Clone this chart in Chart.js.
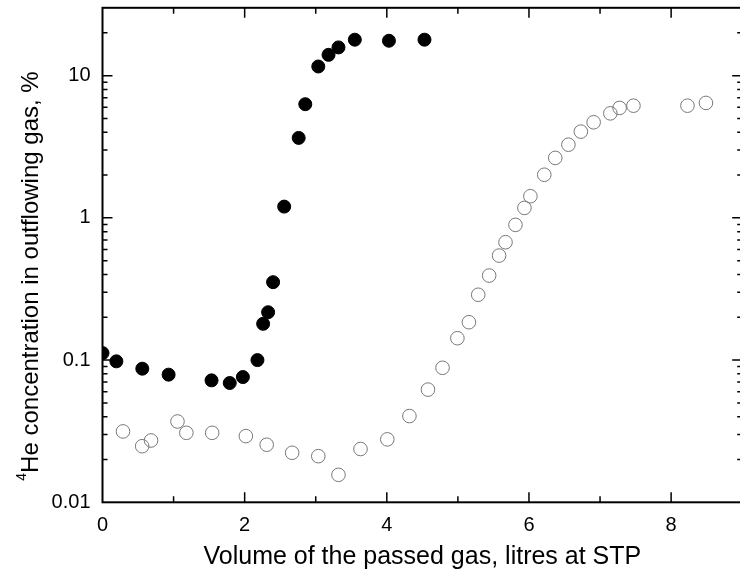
<!DOCTYPE html>
<html>
<head>
<meta charset="utf-8">
<script src="https://cdn.jsdelivr.net/npm/chart.js@4/dist/chart.umd.min.js"></script>
<style>
  html, body { margin: 0; padding: 0; background: #fff; overflow: hidden; }
  #wrap { width: 740px; height: 573px; overflow: hidden; }
</style>
</head>
<body>
<div id="wrap"><canvas id="grafico" width="750" height="573"></canvas></div>
<script>
// filled circles
const filledX = [0, 0.195, 0.56, 0.93, 1.534, 1.79, 1.975, 2.18, 2.26, 2.33, 2.40, 2.556, 2.76, 2.853, 3.036, 3.18, 3.32, 3.55, 4.03, 4.53];
const filledY = [0.112, 0.098, 0.087, 0.079, 0.072, 0.069, 0.076, 0.1, 0.18, 0.217, 0.353, 1.2, 3.65, 6.3, 11.6, 14.0, 15.8, 17.9, 17.6, 17.9];

// open circles
const openX = [0.288, 0.558, 0.683, 1.055, 1.18, 1.543, 2.017, 2.31, 2.668, 3.036, 3.32, 3.63, 4.007, 4.318, 4.579, 4.784, 4.993, 5.155, 5.286, 5.44, 5.58, 5.67, 5.81, 5.936, 6.02, 6.215, 6.37, 6.555, 6.73, 6.91, 7.145, 7.275, 7.47, 8.23, 8.49];
const openY = [0.0315, 0.0248, 0.0272, 0.037, 0.0308, 0.0308, 0.0292, 0.0254, 0.0223, 0.0211, 0.0156, 0.0237, 0.0277, 0.0404, 0.062, 0.0883, 0.1425, 0.1846, 0.288, 0.393, 0.543, 0.674, 0.893, 1.175, 1.42, 2.01, 2.64, 3.27, 4.04, 4.7, 5.43, 5.93, 6.15, 6.15, 6.43];

const xTickLabels = [0, 2, 4, 6, 8];
const yTickLabels = ["0.01", "0.1", "1", "10"];

const xTitulo = "Volume of the passed gas, litres at STP";
const yTitulo = "He concentration in outflowing gas, %";

const fuente = "'Liberation Sans', Arial, sans-serif";

function puntos(xs, ys) {
  return xs.map((x, i) => ({ x: x, y: ys[i] }));
}

function esDecada(v) {
  const l = Math.log10(v);
  return Math.abs(l - Math.round(l)) < 1e-6;
}

// quitar el relleno extra que Chart.js reserva para las etiquetas
function sinRelleno(s) {
  s.paddingTop = 0; s.paddingBottom = 0;
  s.paddingLeft = 0; s.paddingRight = 0;
}

// marco, ticks hacia adentro y titulo vertical
const marco = {
  id: "marco",
  afterDraw(chart) {
    const ctx = chart.ctx;
    const a = chart.chartArea;
    const xs = chart.scales.x;
    const ys = chart.scales.y;
    ctx.save();
    ctx.strokeStyle = "#000";
    ctx.lineWidth = 2;
    ctx.strokeRect(a.left, a.top, a.right - a.left, a.bottom - a.top);

    ctx.lineWidth = 1.5;
    ctx.beginPath();
    for (let v = 1; v < 9; v++) {
      const px = xs.getPixelForValue(v);
      const len = v % 2 === 0 ? 10 : 6;
      ctx.moveTo(px, a.bottom); ctx.lineTo(px, a.bottom - len);
      ctx.moveTo(px, a.top); ctx.lineTo(px, a.top + len);
    }
    for (let d = 0.01; d < 30; d *= 10) {
      for (let m = 1; m <= 9; m++) {
        const v = d * m;
        if (v <= 0.01 || v >= 30) continue;
        const py = ys.getPixelForValue(v);
        const len = m === 1 ? 10 : 5;
        ctx.moveTo(a.left, py); ctx.lineTo(a.left + len, py);
        ctx.moveTo(a.right, py); ctx.lineTo(a.right - len, py);
      }
    }
    ctx.stroke();

    // titulo eje y con superindice
    ctx.translate(38, 276);
    ctx.rotate(-Math.PI / 2);
    ctx.fillStyle = "#000";
    ctx.textBaseline = "alphabetic";
    ctx.textAlign = "left";
    ctx.font = "24px " + fuente;
    const w = ctx.measureText(yTitulo).width;
    ctx.font = "14px " + fuente;
    const wSup = ctx.measureText("4").width;
    const x0 = -(w + wSup) / 2;
    ctx.fillText("4", x0, -12);
    ctx.font = "24px " + fuente;
    ctx.fillText(yTitulo, x0 + wSup, 0);
    ctx.restore();
  }
};

new Chart(document.getElementById("grafico"), {
  type: "scatter",
  data: {
    datasets: [
      {
        label: "filled",
        data: puntos(filledX, filledY),
        backgroundColor: "#000",
        borderColor: "#000",
        borderWidth: 1,
        pointRadius: 6.5,
        clip: 0
      },
      {
        label: "open",
        data: puntos(openX, openY),
        backgroundColor: "rgba(0,0,0,0)",
        borderColor: "#777",
        borderWidth: 1,
        pointRadius: 6.8,
        clip: 0
      }
    ]
  },
  options: {
    responsive: false,
    animation: false,
    devicePixelRatio: 1,
    layout: { padding: { top: 7, right: 2, left: 0, bottom: 0 } },
    plugins: {
      legend: { display: false },
      tooltip: { enabled: false }
    },
    scales: {
      x: {
        type: "linear",
        min: 0,
        max: 9,
        grid: { display: false, drawTicks: false },
        border: { display: false },
        ticks: {
          stepSize: 1,
          autoSkip: false,
          maxRotation: 0,
          padding: 11,
          color: "#000",
          font: { family: fuente, size: 20 },
          callback: v => xTickLabels.includes(v) ? String(v) : ""
        },
        title: {
          display: true,
          text: xTitulo,
          color: "#000",
          font: { family: fuente, size: 25 },
          padding: { top: 0, bottom: 1 }
        },
        afterFit: s => { s.height = 70.7; sinRelleno(s); }
      },
      y: {
        type: "logarithmic",
        min: 0.01,
        max: 30,
        grid: { display: false, drawTicks: false },
        border: { display: false },
        ticks: {
          autoSkip: false,
          padding: 12,
          color: "#000",
          font: { family: fuente, size: 20 },
          callback: v => esDecada(v) ? yTickLabels[Math.round(Math.log10(v)) + 2] : ""
        },
        afterFit: s => { s.width = 102.5; sinRelleno(s); }
      }
    }
  },
  plugins: [marco]
});
</script>
</body>
</html>
